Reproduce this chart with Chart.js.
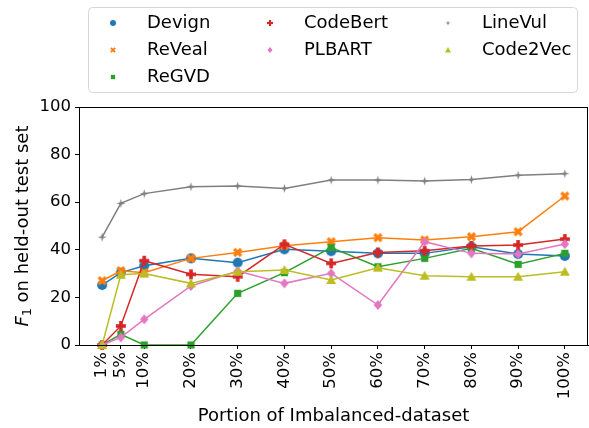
<!DOCTYPE html>
<html>
<head>
<meta charset="utf-8">
<script src="https://cdn.jsdelivr.net/npm/chart.js@4"></script>
<style>
  body { margin: 0; background: #fff; }
  #wrap { width: 589px; height: 428px; position: relative; }
</style>
</head>
<body>
<div id="wrap"><canvas id="chart"></canvas></div>
<script>
// ===== Data =====
const portions = [1, 5, 10, 20, 30, 40, 50, 60, 70, 80, 90, 100];
const yTicks = [0, 20, 40, 60, 80, 100];

const devign   = [25.2, 30.4, 33.3, 36.4, 34.6, 40.2, 39.4, 38.5, 38.5, 41.3, 38.2, 37.4];
const reveal   = [27.0, 31.2, 30.4, 36.4, 38.9, 41.7, 43.4, 45.1, 44.1, 45.5, 47.6, 62.6];
const regvd    = [0.0, 4.5, 0.0, 0.0, 21.7, 30.4, 40.9, 32.9, 36.4, 40.6, 33.9, 38.5];
const codebert = [0.0, 8.0, 35.4, 29.7, 28.7, 42.3, 34.3, 38.9, 39.6, 41.6, 42.0, 44.5];
const plbart   = [0.0, 3.2, 10.8, 24.8, 31.1, 25.9, 30.1, 16.8, 43.4, 38.5, 38.2, 42.4];
const linevul  = [45.3, 59.5, 63.6, 66.5, 66.8, 65.8, 69.3, 69.3, 68.9, 69.5, 71.3, 72.0];
const code2vec = [0.0, 29.5, 30.0, 25.9, 30.8, 31.5, 27.3, 32.5, 29.1, 28.7, 28.7, 30.8];

const FONT = '"DejaVu Sans", "Liberation Sans", sans-serif';

// Marker pictures (matplotlib-like shapes)
function makeMarker(shape, color, s) {
    const c = document.createElement('canvas');
    const size = Math.ceil(s + 2);
    c.width = size; c.height = size;
    const g = c.getContext('2d');
    const m = size / 2, r = s / 2;
    g.fillStyle = color;
    g.strokeStyle = color;
    g.beginPath();
    switch (shape) {
        case 'circle':
            g.arc(m, m, r, 0, Math.PI * 2);
            g.fill();
            break;
        case 'square':
            g.fillRect(m - r * 0.8, m - r * 0.8, r * 1.6, r * 1.6);
            break;
        case 'plus': {
            const w = s * 0.36;
            g.fillRect(m - w / 2, m - r, w, s);
            g.fillRect(m - r, m - w / 2, s, w);
            break;
        }
        case 'x': {
            g.translate(m, m);
            g.rotate(Math.PI / 4);
            const w = s * 0.36, l = s * 1.1;
            g.fillRect(-w / 2, -l / 2, w, l);
            g.fillRect(-l / 2, -w / 2, l, w);
            break;
        }
        case 'diamond':
            g.moveTo(m, m - r); g.lineTo(m + r * 0.85, m); g.lineTo(m, m + r); g.lineTo(m - r * 0.85, m);
            g.closePath(); g.fill();
            break;
        case 'star4': {
            const k = r * 0.22;
            g.moveTo(m, m - r); g.lineTo(m + k, m - k); g.lineTo(m + r, m); g.lineTo(m + k, m + k);
            g.lineTo(m, m + r); g.lineTo(m - k, m + k); g.lineTo(m - r, m); g.lineTo(m - k, m - k);
            g.closePath(); g.fill();
            break;
        }
        case 'triangle':
            g.moveTo(m, m - r); g.lineTo(m + r, m + r * 0.8); g.lineTo(m - r, m + r * 0.8);
            g.closePath(); g.fill();
            break;
    }
    return c;
}

const series = [
    { label: 'Devign',   data: devign,   color: '#1f77b4', shape: 'circle',   size: 10 },
    { label: 'ReVeal',   data: reveal,   color: '#ff7f0e', shape: 'x',        size: 9 },
    { label: 'ReGVD',    data: regvd,    color: '#2ca02c', shape: 'square',   size: 9 },
    { label: 'CodeBert', data: codebert, color: '#d62728', shape: 'plus',     size: 10 },
    { label: 'PLBART',   data: plbart,   color: '#e377c2', shape: 'diamond',  size: 10 },
    { label: 'LineVul',  data: linevul,  color: '#7f7f7f', shape: 'star4',    size: 9 },
    { label: 'Code2Vec', data: code2vec, color: '#bcbd22', shape: 'triangle', size: 10 }
];

series.forEach(s => {
    s.marker = makeMarker(s.shape, s.color, s.size);
    s.legendMarker = makeMarker(s.shape, s.color, s.size * 0.6);
});

// Legend, axis titles and frame
const extras = {
    id: 'extras',
    afterDraw(chart) {
        const ctx = chart.ctx;
        const a = chart.chartArea;
        ctx.save();

        // frame
        ctx.strokeStyle = '#000';
        ctx.lineWidth = 1;
        ctx.strokeRect(a.left + 0.5, a.top + 0.5, a.right - a.left - 1, a.bottom - a.top);

        // x title
        ctx.fillStyle = '#000';
        ctx.font = '18px ' + FONT;
        ctx.textAlign = 'center';
        ctx.textBaseline = 'middle';
        ctx.fillText('Portion of Imbalanced-dataset', (a.left + a.right) / 2, 416);

        // y title: F_1 on held-out test set
        ctx.translate(23, (a.top + a.bottom) / 2);
        ctx.rotate(-Math.PI / 2);
        ctx.textAlign = 'left';
        ctx.textBaseline = 'middle';
        const fF = 'italic 18px ' + FONT, f1 = '12.5px ' + FONT, fR = '18px ' + FONT;
        ctx.font = fF; const wF = ctx.measureText('F').width;
        ctx.font = f1; const w1 = ctx.measureText('1').width;
        ctx.font = fR; const wR = ctx.measureText(' on held-out test set').width;
        let x = -(wF + w1 + wR) / 2;
        ctx.font = fF; ctx.fillText('F', x, 0); x += wF;
        ctx.font = f1; ctx.fillText('1', x, 5); x += w1;
        ctx.font = fR; ctx.fillText(' on held-out test set', x, 0);
        ctx.restore();

        // legend box
        ctx.save();
        ctx.fillStyle = 'rgba(255,255,255,0.8)';
        ctx.strokeStyle = '#d6d6d6';
        ctx.lineWidth = 1;
        ctx.beginPath();
        ctx.roundRect(88.5, 7.5, 489, 85, 4);
        ctx.fill();
        ctx.stroke();

        const colX = [113, 270, 448];
        const rowY = [23, 50, 77];
        const cols = [[0, 1, 2], [3, 4], [5, 6]];
        ctx.font = '18px ' + FONT;
        ctx.fillStyle = '#000';
        ctx.textAlign = 'left';
        ctx.textBaseline = 'middle';
        cols.forEach((col, ci) => {
            col.forEach((si, ri) => {
                const s = series[si];
                const m = s.legendMarker;
                ctx.drawImage(m, colX[ci] - m.width / 2, rowY[ri] - m.height / 2);
                ctx.fillText(s.label, colX[ci] + 34, rowY[ri]);
            });
        });
        ctx.restore();
    }
};

const n = series.length;
new Chart(document.getElementById('chart'), {
    type: 'line',
    data: {
        datasets: series.map((s, i) => ({
            label: s.label,
            data: portions.map((p, j) => ({ x: p, y: s.data[j] })),
            borderColor: s.color,
            backgroundColor: s.color,
            borderWidth: 1.5,
            pointStyle: s.marker,
            pointRadius: 5,
            pointHoverRadius: 5,
            tension: 0,
            clip: false,
            order: n - 1 - i
        }))
    },
    options: {
        responsive: true,
        maintainAspectRatio: false,
        animation: false,
        events: [],
        layout: { autoPadding: false, padding: { top: 107, right: 1, left: 0, bottom: 0 } },
        plugins: {
            legend: { display: false },
            tooltip: { enabled: false }
        },
        scales: {
            x: {
                type: 'linear',
                min: -3.95,
                max: 104.95,
                afterBuildTicks: scale => { scale.ticks = portions.map(v => ({ value: v })); },
                afterFit: scale => {
                    scale.height = 83;
                    scale.paddingLeft = 0;
                    scale.paddingRight = 0;
                },
                ticks: {
                    autoSkip: false,
                    maxRotation: 90,
                    minRotation: 90,
                    padding: 3,
                    color: '#000',
                    font: { family: FONT, size: 16.5 },
                    callback: v => v + '%'
                },
                grid: {
                    drawOnChartArea: false,
                    drawTicks: true,
                    tickLength: 4,
                    color: '#000'
                },
                border: { display: true, color: '#000', width: 1 }
            },
            y: {
                type: 'linear',
                min: 0,
                max: 100,
                afterBuildTicks: scale => { scale.ticks = yTicks.map(v => ({ value: v })); },
                afterFit: scale => {
                    scale.width = 79;
                    scale.paddingTop = 0;
                    scale.paddingBottom = 0;
                },
                ticks: {
                    padding: 4,
                    color: '#000',
                    font: { family: FONT, size: 16.5 }
                },
                grid: {
                    drawOnChartArea: false,
                    drawTicks: true,
                    tickLength: 4,
                    color: '#000'
                },
                border: { display: true, color: '#000', width: 1 }
            }
        }
    },
    plugins: [extras]
});
</script>
</body>
</html>
